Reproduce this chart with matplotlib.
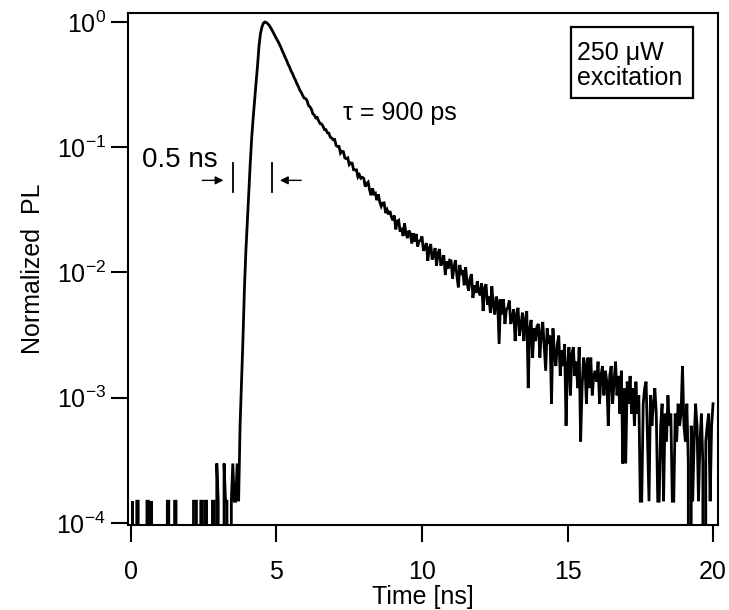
import numpy as np
import matplotlib
matplotlib.use("Agg")
import matplotlib.pyplot as plt
from matplotlib.patches import Rectangle

plt.rcParams['font.family'] = ['Liberation Sans', 'DejaVu Sans']
plt.rcParams['mathtext.fontset'] = 'custom'
plt.rcParams['mathtext.rm'] = 'Liberation Sans'
plt.rcParams['mathtext.it'] = 'Liberation Sans:italic'
plt.rcParams['mathtext.bf'] = 'Liberation Sans:bold'

# ---- data: photon counts per 0.05 ns bin ----
bin_width_ns = 0.05
counts = [
    # 0.00 - 0.95 ns
    0, 1, 0, 0, 1, 1, 0, 0, 0, 0, 0, 1, 1, 0, 1, 0, 0, 0, 0, 0,
    # 1.00 - 1.95
    0, 0, 0, 0, 0, 1, 1, 0, 0, 0, 1, 1, 0, 0, 0, 0, 0, 0, 0, 0,
    # 2.00 - 2.95
    0, 0, 0, 1, 1, 1, 0, 0, 1, 1, 0, 1, 1, 0, 0, 0, 1, 1, 0, 2,
    # 3.00 - 3.95
    1, 0, 0, 0, 2, 1, 1, 0, 0, 1, 2, 1, 1, 2, 1, 4, 9, 20, 50, 100,
    # 4.00 - 4.95
    170, 300, 500, 800, 1150, 1600, 2200, 3000, 4300, 5400,
    6100, 6550, 6700, 6640, 6500, 6300, 6040, 5760, 5470, 5190,
    # 5.00 - 5.95
    4930, 4710, 4460, 4220, 3950, 3730, 3490, 3300, 3080, 2920,
    2730, 2600, 2430, 2310, 2160, 2050, 1920, 1840, 1740, 1655,
    # 6.00 - 6.95
    1640, 1582, 1447, 1411, 1349, 1240, 1212, 1149, 1157, 1086,
    1035, 1027, 986, 926, 925, 873, 867, 807, 793, 768,
    # 7.00 - 7.95
    772, 692, 680, 680, 601, 622, 617, 550, 543, 551,
    487, 502, 500, 443, 442, 442, 388, 404, 379, 385,
    # 8.00 - 8.95
    379, 325, 343, 353, 306, 277, 315, 284, 288, 253,
    282, 244, 226, 240, 241, 200, 212, 195, 207, 186,
    # 9.00 - 9.95
    175, 191, 148, 172, 175, 142, 152, 131, 165, 138,
    126, 145, 137, 114, 138, 118, 136, 108, 119, 121,
    # 10.00 - 10.95
    130, 100, 105, 115, 83, 105, 113, 85, 91, 105,
    76, 95, 103, 76, 84, 92, 64, 82, 72, 84,
    # 11.00 - 11.95
    83, 60, 74, 84, 63, 51, 77, 64, 70, 53,
    74, 55, 48, 60, 65, 42, 53, 46, 57, 47,
    # 12.00 - 12.95
    44, 55, 33, 50, 54, 37, 43, 32, 52, 37,
    31, 43, 39, 18, 41, 31, 41, 26, 34, 35,
    # 13.00 - 13.95
    40, 26, 29, 34, 19, 31, 35, 21, 25, 32,
    19, 28, 33, 8, 24, 28, 14, 24, 19, 25,
    # 14.00 - 14.95
    26, 14, 22, 27, 17, 11, 24, 18, 21, 6,
    24, 15, 12, 18, 21, 10, 16, 12, 18, 4,
    # 15.00 - 15.95
    12, 17, 7, 15, 17, 10, 13, 8, 17, 3,
    8, 14, 12, 6, 14, 8, 14, 7, 10, 11,
    # 16.00 - 16.95
    9, 13, 6, 10, 12, 7, 11, 9, 4, 10,
    12, 6, 9, 13, 7, 10, 5, 11, 2, 8,
    # 17.00 - 17.95
    2, 9, 6, 10, 5, 8, 4, 9, 5, 7,
    1, 1, 6, 8, 9, 3, 1, 7, 4, 6,
    # 18.00 - 18.95
    8, 5, 1, 1, 4, 6, 1, 5, 3, 7,
    4, 5, 1, 1, 5, 3, 6, 4, 5, 12,
    # 19.00 - 19.95
    4, 3, 6, 2, 0, 4, 1, 3, 6, 4,
    1, 3, 5, 2, 0, 3, 4, 5, 1, 4,
    # 20.00
    6,
]

x_ticks = [0, 5, 10, 15, 20]
y_ticks = [1.0, 1e-1, 1e-2, 1e-3, 1e-4]
y_tick_labels = [r'$\mathregular{10^{0}}$', r'$\mathregular{10^{-1}}$',
                 r'$\mathregular{10^{-2}}$', r'$\mathregular{10^{-3}}$',
                 r'$\mathregular{10^{-4}}$']

counts = np.array(counts, dtype=float)
time_ns = np.arange(len(counts)) * bin_width_ns
pl = counts / counts.max()

# ---- figure ----
fig = plt.figure(figsize=(7.29, 6.10), dpi=100)
ax = fig.add_axes([0.1756, 0.139, 0.8093, 0.8397])
ax.set_yscale('log', nonpositive='clip')
ax.plot(time_ns, pl, color='black', lw=2.0, solid_joinstyle='miter')

ax.set_xlim(-0.1, 20.17)
ax.set_ylim(9.6e-5, 1.18)
ax.set_xticks(x_ticks)
ax.set_xticklabels([str(v) for v in x_ticks])
ax.set_yticks(y_ticks)
ax.set_yticklabels(y_tick_labels)
ax.minorticks_off()

fs = 18
ax.tick_params(direction='out', length=12, width=1.5, labelsize=fs, pad=4)
ax.tick_params(axis='x', pad=13)
for sp in ax.spines.values():
    sp.set_linewidth(1.5)

ax.set_xlabel('Time [ns]', fontsize=fs, labelpad=1)
ax.set_ylabel('Normalized  PL', fontsize=fs, labelpad=8)

# annotations
ax.text(7.29, 0.164, 'τ = 900 ps', fontsize=fs, ha='left', va='baseline')
ax.text(0.38, 0.0692, '0.5 ns', fontsize=20, ha='left', va='baseline')
arrow_y = 0.0544
bar_lo, bar_hi = 0.0436, 0.0745
ax.plot([3.49, 3.49], [bar_lo, bar_hi], color='black', lw=1.3)
ax.plot([4.84, 4.84], [bar_lo, bar_hi], color='black', lw=1.3)
ax.annotate('', xy=(3.18, arrow_y), xytext=(2.45, arrow_y),
            arrowprops=dict(arrowstyle='-|>', color='black', lw=1.0,
                            mutation_scale=12, shrinkA=0, shrinkB=0))
ax.annotate('', xy=(5.12, arrow_y), xytext=(5.85, arrow_y),
            arrowprops=dict(arrowstyle='-|>', color='black', lw=1.0,
                            mutation_scale=12, shrinkA=0, shrinkB=0))

# legend-like box
ax.add_patch(Rectangle((0.751, 0.834), 0.207, 0.139, transform=ax.transAxes,
                       fc='white', ec='black', lw=1.6, zorder=5))
ax.text(0.761, 0.908, '250 μW', transform=ax.transAxes, fontsize=fs,
        ha='left', va='baseline', zorder=6)
ax.text(0.761, 0.860, 'excitation', transform=ax.transAxes, fontsize=fs,
        ha='left', va='baseline', zorder=6)

fig.savefig('out.png', dpi=100)
